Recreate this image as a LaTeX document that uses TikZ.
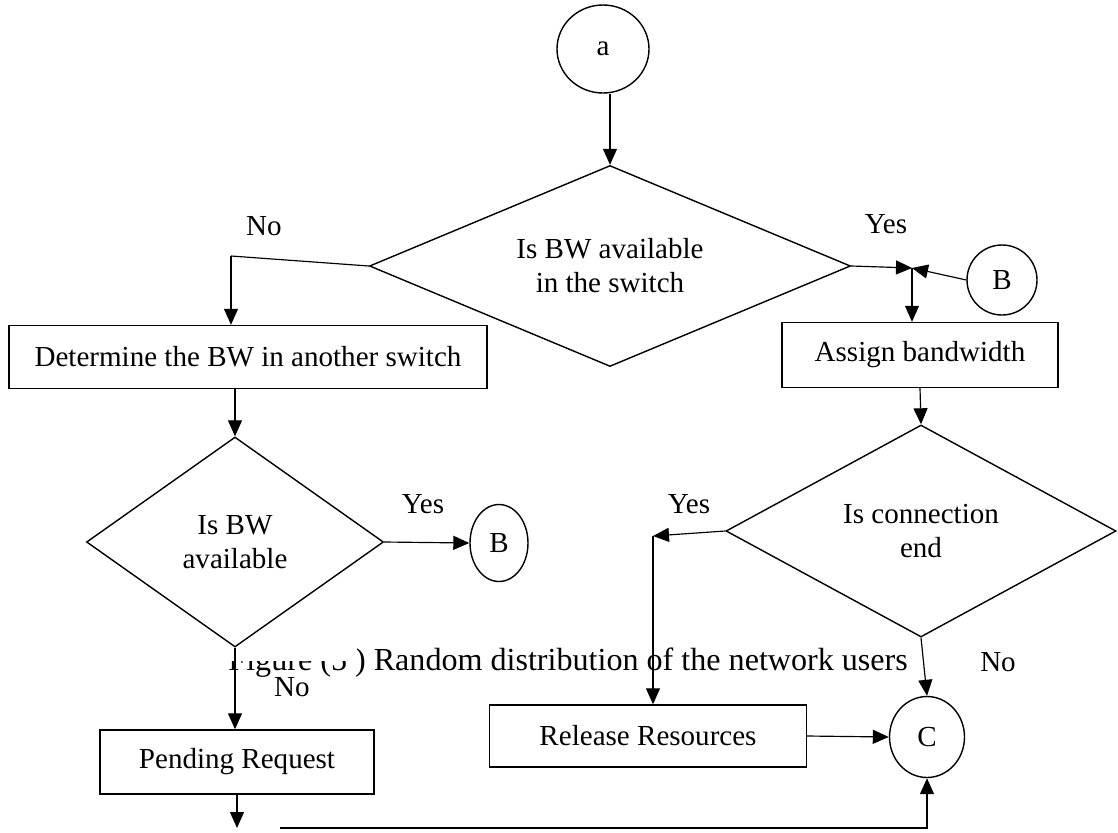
\documentclass[tikz,border=0pt]{standalone}
\usepackage{fontspec}
\setmainfont{Liberation Serif}
\usetikzlibrary{arrows.meta,shapes.geometric}
\newcommand{\flowfont}{\fontsize{12.4}{14.5}\selectfont}
\tikzset{
  % plain outlined shapes of the flow chart
  box/.style  = {rectangle, draw, line width=0.6pt, inner sep=0pt, font=\flowfont},
  dec/.style  = {diamond, draw, line width=0.6pt, inner sep=0pt, align=center, font=\flowfont},
  conn/.style = {ellipse, draw, line width=0.6pt, inner sep=0pt, font=\flowfont},
  arr/.style  = {-{Triangle[length=2.4mm,width=2.1mm]}, line width=0.5pt},
  tag/.style  = {inner sep=0pt, font=\flowfont},
  capt/.style = {inner sep=0pt, font=\fontsize{13.7}{16}\selectfont},
}

\begin{document}
\begin{tikzpicture}[x=0.15mm,y=-0.15mm]
\useasboundingbox (0,0) rectangle (1118,832);
% --- caption, its top half hidden -----------------------------------------
\node[capt, anchor=base west] (cap) at (228,670)
  {Figure (5 ) Random distribution of the network users};
\fill[white] (226,638) rectangle (357,661);
% --- shapes ---------------------------------------------------------------
\node[conn, minimum width=1.38cm, minimum height=1.32cm] (a) at (603,49) {a};
\node[dec, minimum width=7.215cm, minimum height=3.015cm, shape aspect=2.4] (d1) at (610,266)
  {Is BW available\\in the switch};
\node[conn, minimum width=1.05cm, minimum height=1.05cm] (b1) at (1002,280) {B};
\node[box, minimum width=7.17cm, minimum height=0.945cm] (det) at (248,357)
  {Determine the BW in another switch};
\node[box, minimum width=4.14cm, minimum height=0.975cm] (asg) at (920,355) {Assign bandwidth};
\node[dec, minimum width=4.455cm, minimum height=3.15cm, shape aspect=1.4] (d2) at (235,542)
  {Is BW\\available};
\node[conn, minimum width=0.87cm, minimum height=1.155cm] (b2) at (499,543) {B};
\node[dec, minimum width=5.85cm, minimum height=3.18cm, shape aspect=1.85] (d3) at (921,531)
  {Is connection\\end};
\node[box, minimum width=4.755cm, minimum height=0.93cm] (rel) at (648,736) {Release Resources};
\node[conn, minimum width=1.125cm, minimum height=1.215cm] (c) at (927,737) {C};
\node[box, minimum width=4.11cm, minimum height=0.96cm] (pend) at (237,762) {Pending Request};
% --- branch labels --------------------------------------------------------
\node[tag] (no1)  at (264,226) {No};
\node[tag] (yes1) at (886,224) {Yes};
\node[tag] (yes2) at (423,504) {Yes};
\node[tag] (no2)  at (292,687) {No};
\node[tag] (yes3) at (689,504) {Yes};
\node[tag] (no3)  at (998,662) {No};
% --- bend points ----------------------------------------------------------
\coordinate (n1) at (231,256);
\coordinate (j1) at (912,268);
\coordinate (j3) at (653,536);
\coordinate (p1) at (237,828);
\coordinate (p2) at (280,828);
% --- connectors -----------------------------------------------------------
\draw[arr] (a.south -| d1.north) -- (d1.north);
\draw[line width=0.5pt] (d1.west) -- (n1);
\draw[arr] (n1) -- (n1 |- det.north);
\draw[arr] (d1.east) -- (j1);
\draw[arr] (b1.west) -- (j1);
\draw[arr] (j1) -- (j1 |- asg.north);
\draw[arr] (d2.north |- det.south) -- (d2.north);
\draw[arr] (d2.east) -- (b2.west);
\draw[arr] (d2.south) -- (d2.south |- pend.north);
\draw[arr] (pend.south) -- (p1);
\draw[arr] (p2) -| (c.south);
\draw[arr] (asg.south) -- (d3.north);
\draw[arr] (d3.west) -- (j3);
\draw[arr] (j3) -- (j3 |- rel.north);
\draw[arr] (d3.south) -- (c.north);
\draw[arr] (rel.east) -- (c.west);
\end{tikzpicture}
\end{document}
